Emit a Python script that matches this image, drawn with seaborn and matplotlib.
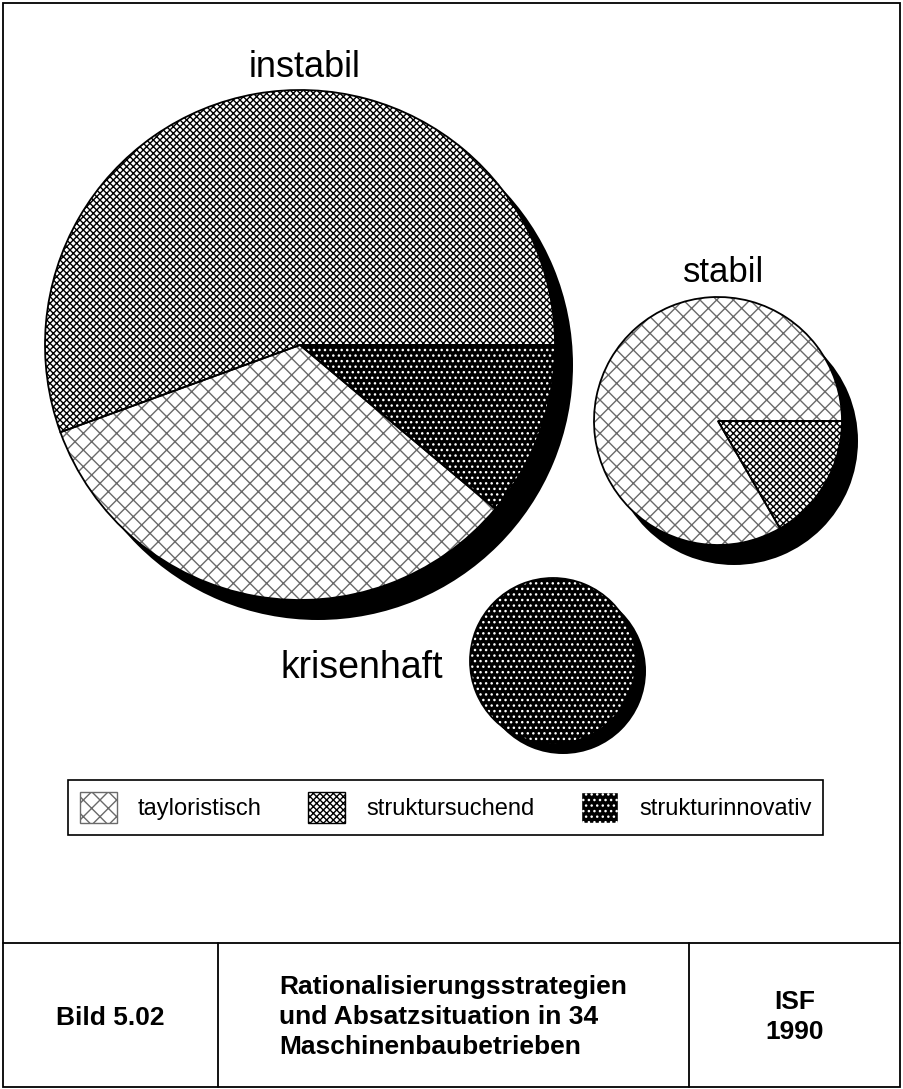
import matplotlib
matplotlib.use("Agg")
import matplotlib.pyplot as plt
from matplotlib.patches import Patch, Rectangle
import seaborn as sns

# Daten: Anzahl der Betriebe je Strategie und Absatzsituation (34 Betriebe)
CATEGORIES = ["tayloristisch", "struktursuchend", "strukturinnovativ"]
GROUPS = ["instabil", "stabil", "krisenhaft"]
INSTABIL = [6, 10, 2]
STABIL = [10, 2, 0]
KRISENHAFT = [0, 0, 4]

TITLE_LEFT = "Bild 5.02"
TITLE_MID = "Rationalisierungsstrategien\nund Absatzsituation in 34\nMaschinenbaubetrieben"
TITLE_RIGHT = "ISF\n1990"

# Muster je Kategorie: (Fuellfarbe, Musterfarbe, Schraffur)
STYLES = {
    "tayloristisch": ("white", "#6a6a6a", "xx"),
    "struktursuchend": ("white", "black", "xxxxx"),
    "strukturinnovativ": ("black", "white", "..."),
}
DRAW_ORDER = ["tayloristisch", "strukturinnovativ", "struktursuchend"]

W, H = 904, 1089

# Layout der Kreise (Pixel, y von oben): Mitte, Radius, Startwinkel, Schatten
LAYOUT = {
    "instabil": dict(cx=300, cy=345, r=255, start=200, sh=(18, 20),
                     label=(305, 67), ha="center", fs=26),
    "stabil": dict(cx=718, cy=421, r=124, start=0, sh=(16, 20),
                   label=(724, 272), ha="center", fs=25),
    "krisenhaft": dict(cx=553, cy=661, r=83, start=0, sh=(10, 10),
                       label=(443, 668), ha="right", fs=27),
}

sns.set_theme(style="white")
plt.rcParams["font.family"] = ["Liberation Sans", "DejaVu Sans"]
plt.rcParams["hatch.linewidth"] = 1.0
plt.rcParams["text.color"] = "black"

fig = plt.figure(figsize=(W / 100, H / 100), dpi=100)
ax = fig.add_axes([0, 0, 1, 1])


def Y(y):
    return H - y


values = dict(zip(GROUPS, [INSTABIL, STABIL, KRISENHAFT]))

for group in GROUPS:
    lay = LAYOUT[group]
    counts = dict(zip(CATEGORIES, values[group]))
    vals = [counts[c] for c in DRAW_ORDER if counts[c] > 0]
    cats = [c for c in DRAW_ORDER if counts[c] > 0]
    center = (lay["cx"], Y(lay["cy"]))

    # Schatten
    ax.pie([sum(vals)], colors=["black"], radius=lay["r"],
           center=(center[0] + lay["sh"][0], center[1] - lay["sh"][1]),
           wedgeprops=dict(linewidth=0), frame=True)

    # Muster
    wedges, _ = ax.pie(vals, radius=lay["r"], center=center,
                       startangle=lay["start"], counterclock=True, frame=True)
    for w, c in zip(wedges, cats):
        fc, hc, hatch = STYLES[c]
        w.set_facecolor(fc)
        w.set_edgecolor(hc)
        w.set_hatch(hatch)
        w.set_linewidth(0)

    # Umrisse
    ax.pie(vals, radius=lay["r"], center=center, startangle=lay["start"],
           counterclock=True, frame=True,
           wedgeprops=dict(fill=False, edgecolor="black", linewidth=1.3))

    lx, ly = lay["label"]
    ax.text(lx, Y(ly), group, fontsize=lay["fs"], ha=lay["ha"], va="center",
            color="black")

# Legende
handles = []
for c in CATEGORIES:
    fc, hc, hatch = STYLES[c]
    handles.append(Patch(facecolor=fc, edgecolor=hc, hatch=hatch, label=c))
leg = ax.legend(handles=handles, ncol=3, loc="upper left",
                bbox_to_anchor=(68 / W, Y(780) / H), borderaxespad=0,
                fontsize=17, handlelength=1.57, handleheight=1.65,
                handletextpad=0.9, columnspacing=1.95, borderpad=0.5,
                fancybox=False, framealpha=1)
leg.get_frame().set_edgecolor("black")
leg.get_frame().set_linewidth(1.2)
for t in leg.get_texts():
    t.set_color("black")

# Rahmen und Fusszeile
ax.add_patch(Rectangle((3, Y(1087)), 897, 1084, fill=False,
                       edgecolor="black", linewidth=1.3))
ax.plot([3, 900], [Y(943), Y(943)], color="black", lw=1.3)
ax.plot([218, 218], [Y(943), Y(1087)], color="black", lw=1.3)
ax.plot([689, 689], [Y(943), Y(1087)], color="black", lw=1.3)

ax.text(110, Y(1018), TITLE_LEFT, fontsize=19, fontweight="bold",
        ha="center", va="center", color="black")
ax.text(453, Y(1017), TITLE_MID, fontsize=19, fontweight="bold",
        ha="center", va="center", multialignment="left", linespacing=1.3,
        color="black")
ax.text(795, Y(1017), TITLE_RIGHT, fontsize=19, fontweight="bold",
        ha="center", va="center", multialignment="center", linespacing=1.3,
        color="black")

ax.set_xlim(0, W)
ax.set_ylim(0, H)
ax.set_aspect("equal")
ax.axis("off")

fig.savefig("out.png", dpi=100, facecolor="white")
